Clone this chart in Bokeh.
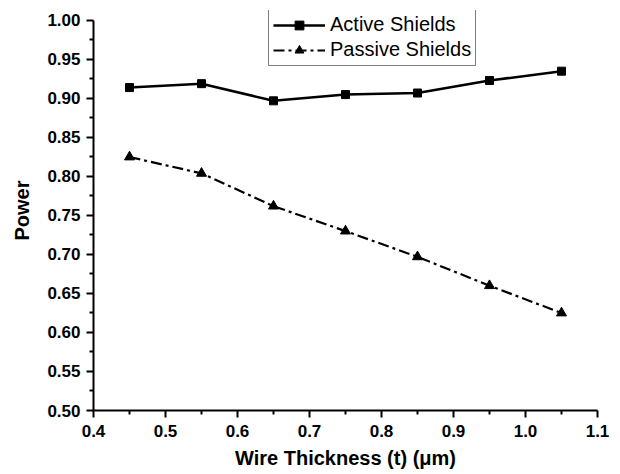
from bokeh.plotting import figure
from bokeh.embed import file_html
from bokeh.resources import INLINE
from bokeh.models import Range1d, Legend, LegendItem, FixedTicker
from bokeh.models import CustomJSTickFormatter

# Data
thickness = [0.45, 0.55, 0.65, 0.75, 0.85, 0.95, 1.05]
active = [0.914, 0.919, 0.897, 0.905, 0.907, 0.923, 0.935]
passive = [0.825, 0.804, 0.762, 0.730, 0.697, 0.660, 0.625]
x_ticks = [0.4, 0.5, 0.6, 0.7, 0.8, 0.9, 1.0, 1.1]
x_minor = [0.45, 0.55, 0.65, 0.75, 0.85, 0.95, 1.05]
y_ticks = [0.50, 0.55, 0.60, 0.65, 0.70, 0.75, 0.80, 0.85, 0.90, 0.95, 1.00]
y_minor = [0.525, 0.575, 0.625, 0.675, 0.725, 0.775, 0.825, 0.875, 0.925, 0.975]

FONT = "Liberation Sans"

# y range extends slightly above 1.00 so the legend can sit above the last tick;
# the axis line itself is bounded to 0.50-1.00
p = figure(width=618, height=472, output_backend="svg", toolbar_location=None,
           x_range=Range1d(0.4, 1.1), y_range=Range1d(0.5, 1.0128),
           min_border_left=93, min_border_right=21, min_border_top=10, min_border_bottom=62)
p.outline_line_color = None
p.xgrid.visible = False
p.ygrid.visible = False
p.background_fill_color = "white"
p.border_fill_color = "white"

r1 = p.line(thickness, active, line_color="black", line_width=2.5)
m1 = p.scatter(thickness, active, marker="square", size=8, fill_color="black", line_color="black")
r2 = p.line(thickness, passive, line_color="black", line_width=2.2, line_dash="11 4 3 4")
m2 = p.scatter(thickness, passive, marker="triangle", size=10, fill_color="black", line_color="black")

for ax in (p.xaxis[0], p.yaxis[0]):
    ax.axis_line_width = 2
    ax.axis_line_color = "black"
    ax.major_tick_line_width = 2
    ax.minor_tick_line_width = 2
    ax.major_tick_in = 0
    ax.major_tick_out = 7
    ax.minor_tick_in = 0
    ax.minor_tick_out = 4
    ax.major_label_text_font = FONT
    ax.major_label_text_font_style = "bold"
    ax.major_label_text_font_size = "17px"
    ax.major_label_text_color = "black"
    ax.axis_label_text_font = FONT
    ax.axis_label_text_font_style = "bold"
    ax.axis_label_text_font_size = "20px"
    ax.axis_label_text_color = "black"

p.yaxis[0].bounds = (0.5, 1.0)
p.xaxis[0].ticker = FixedTicker(ticks=x_ticks, minor_ticks=x_minor)
p.yaxis[0].ticker = FixedTicker(ticks=y_ticks, minor_ticks=y_minor)
p.xaxis[0].formatter = CustomJSTickFormatter(code="return tick.toFixed(1);")
p.yaxis[0].formatter = CustomJSTickFormatter(code="return tick.toFixed(2);")
p.xaxis[0].axis_label = "Wire Thickness (t) (\u03bcm)"
p.yaxis[0].axis_label = "Power"
p.xaxis[0].major_label_standoff = 7
p.yaxis[0].major_label_standoff = 6
p.xaxis[0].axis_label_standoff = 7
p.yaxis[0].axis_label_standoff = 11

legend = Legend(items=[LegendItem(label="Active Shields", renderers=[r1, m1]),
                       LegendItem(label="Passive Shields", renderers=[r2, m2])],
                location=(175, 344))
legend.label_text_font = FONT
legend.label_text_font_size = "20px"
legend.label_text_color = "black"
legend.glyph_width = 52
legend.glyph_height = 22
legend.label_height = 22
legend.label_standoff = 5
legend.spacing = 2
legend.padding = 4
legend.margin = 0
legend.border_line_color = "black"
legend.border_line_width = 1.5
legend.background_fill_alpha = 1
p.add_layout(legend, "center")

open("out.html", "w").write(file_html(p, INLINE))
